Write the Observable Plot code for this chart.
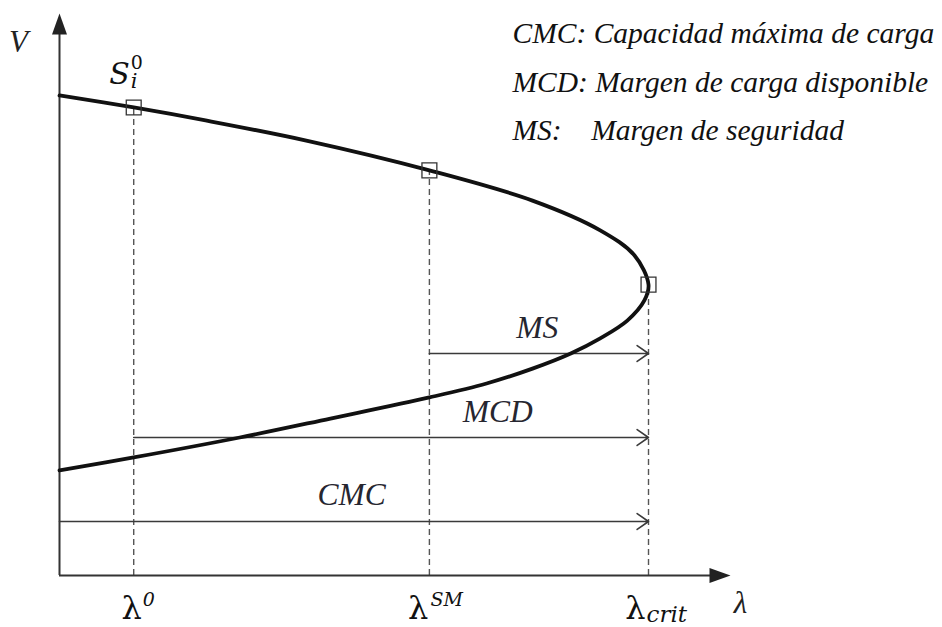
<!DOCTYPE html>
<html>
<head>
<meta charset="utf-8">
<script src="https://cdn.jsdelivr.net/npm/d3@7"></script>
<script src="https://cdn.jsdelivr.net/npm/@observablehq/plot@0.6"></script>
<style>
  html, body { margin: 0; padding: 0; background: #fff; }
  #chart svg { display: block; }
</style>
</head>
<body>
<div id="chart"></div>
<script>
// ---- Data (λ normalised so λcrit = 1, V so V(λ=0, upper) = 1)
const curveLambda = [0, 0.126, 0.248, 0.419, 0.628, 0.803, 0.918, 0.976, 1.0,
                     0.993, 0.964, 0.918, 0.868, 0.803, 0.725, 0.628, 0.460, 0.306, 0.126, 0];
const curveV      = [1.0, 0.975, 0.948, 0.906, 0.844, 0.781, 0.719, 0.667, 0.606,
                     0.573, 0.531, 0.494, 0.4625, 0.431, 0.400, 0.371, 0.327, 0.2875, 0.246, 0.219];

const keyLambda = [0.126, 0.628, 1.0];      // λ0, λSM, λcrit
const keyV      = [0.975, 0.844, 0.606];

const marginNames = ["CMC", "MCD", "MS"];
const marginStart = [0, 0.126, 0.628];
const marginEnd   = [1.0, 1.0, 1.0];
const marginLevel = [0.1125, 0.2875, 0.4625];
const marginLabelLambda = [0.496, 0.744, 0.811];
const marginLabelV      = [0.146, 0.319, 0.494];

const tickBase = ["λ", "λ", "λ"];
const tickSup  = ["0", "SM", ""];
const tickSub  = ["", "", "crit"];

const pointLabel = {base: "S", sub: "i", sup: "0"};

const legendLines = [
  "CMC: Capacidad máxima de carga",
  "MCD: Margen de carga disponible",
  "MS:\u00a0\u00a0\u00a0\u00a0Margen de seguridad"
];

const axisLabelX = "λ";
const axisLabelY = "V";

// ---- Build tables
const curve = curveLambda.map((l, i) => ({l, v: curveV[i]}));
const keys = keyLambda.map((l, i) => ({l, v: keyV[i], base: tickBase[i], sup: tickSup[i], sub: tickSub[i]}));
const margins = marginNames.map((n, i) => ({n, x1: marginStart[i], x2: marginEnd[i], v: marginLevel[i],
  lx: marginLabelLambda[i], lv: marginLabelV[i]}));
const legend = legendLines.map((t, i) => ({t, i}));

const xMax = 1.1392, yMax = 1.1708;

// filled arrowhead: tip at origin, pointing up
const arrowHead = {
  draw(ctx) {
    ctx.moveTo(0, 0);
    ctx.lineTo(7.5, 21);
    ctx.lineTo(-7.5, 21);
    ctx.closePath();
  }
};

const serifIt = "Liberation Serif";
const mathF = "DejaVu Serif";

// per-tick horizontal offsets of the λ glyph end / script start (pixels)
const baseDx = [8, -1, -3];
const scriptDx = [9, 1, -2];

const tickMarks = keys.flatMap((k, i) => [
  Plot.text([k], {x: "l", y: 0, text: "base", fontFamily: mathF, fontSize: 32, fill: "#111",
    textAnchor: "end", lineAnchor: "bottom", dx: baseDx[i], dy: 43}),
  Plot.text([k], {x: "l", y: 0, text: "sup", fontFamily: mathF, fontStyle: "italic", fontSize: 19, fill: "#111",
    textAnchor: "start", lineAnchor: "bottom", dx: scriptDx[i], dy: 30}),
  Plot.text([k], {x: "l", y: 0, text: "sub", fontFamily: mathF, fontStyle: "italic", fontSize: 23, fill: "#111",
    textAnchor: "start", lineAnchor: "bottom", dx: scriptDx[i], dy: 46})
]);

const chart = Plot.plot({
  width: 942,
  height: 627,
  margin: 0,
  x: {domain: [0, xMax], range: [59, 730], axis: null},
  y: {domain: [0, yMax], range: [575, 13], axis: null},
  marks: [
    // dashed guides
    Plot.ruleX(keys, {x: "l", y1: 0, y2: "v", stroke: "#555", strokeWidth: 1.4, strokeDasharray: "6,4"}),
    // axes
    Plot.ruleY([0], {x1: 0, x2: xMax - 0.02, stroke: "#333", strokeWidth: 2}),
    Plot.ruleX([0], {y1: 0, y2: yMax - 0.02, stroke: "#333", strokeWidth: 2}),
    Plot.dot([{x: 0, y: yMax}], {x: "x", y: "y", symbol: arrowHead, fill: "#222", stroke: null}),
    Plot.dot([{x: xMax, y: 0}], {x: "x", y: "y", symbol: arrowHead, rotate: 90, fill: "#222", stroke: null}),
    // margin arrows
    Plot.arrow(margins, {x1: "x1", x2: "x2", y1: "v", y2: "v", stroke: "#3a3a3a", strokeWidth: 1.6,
      headLength: 13, headAngle: 70, bend: 0}),
    Plot.text(margins, {x: "lx", y: "lv", text: "n", fontFamily: serifIt, fontStyle: "italic",
      fontSize: 31.5, fill: "#262630", textAnchor: "middle", lineAnchor: "bottom"}),
    // PV curve
    Plot.line(curve, {x: "l", y: "v", curve: "catmull-rom", stroke: "#111", strokeWidth: 3.8}),
    // operating points
    Plot.dot(keys, {x: "l", y: "v", symbol: "square", r: 8.4, stroke: "#333", strokeWidth: 1.3, fill: "none"}),
    // tick labels λ with scripts
    ...tickMarks,
    // S_i^0 label above first point
    Plot.text([keys[0]], {x: "l", y: "v", text: () => pointLabel.base, fontFamily: mathF, fontStyle: "italic", fontSize: 30,
      fill: "#111", textAnchor: "end", lineAnchor: "bottom", dx: -4, dy: -23}),
    Plot.text([keys[0]], {x: "l", y: "v", text: () => pointLabel.sup, fontFamily: mathF, fontSize: 19,
      fill: "#111", textAnchor: "start", lineAnchor: "bottom", dx: -3, dy: -38}),
    Plot.text([keys[0]], {x: "l", y: "v", text: () => pointLabel.sub, fontFamily: mathF, fontStyle: "italic", fontSize: 21,
      fill: "#111", textAnchor: "start", lineAnchor: "bottom", dx: -3, dy: -19}),
    // axis titles
    Plot.text([axisLabelX], {x: xMax, y: 0, text: d => d, fontFamily: serifIt, fontStyle: "italic", fontSize: 31,
      fill: "#222", textAnchor: "middle", lineAnchor: "bottom", dx: 10, dy: 37}),
    Plot.text([axisLabelY], {x: 0, y: yMax, text: d => d, fontFamily: serifIt, fontStyle: "italic", fontSize: 31,
      fill: "#222", textAnchor: "middle", lineAnchor: "bottom", dx: -41, dy: 38}),
    // legend
    Plot.text(legend, {x: 0.7691, y: d => (575 - 43 - d.i * 48.5) / 480, text: "t", fontFamily: serifIt,
      fontStyle: "italic", fontSize: 29.5, fill: "#111", textAnchor: "start", lineAnchor: "bottom"})
  ]
});
document.getElementById("chart").appendChild(chart);
</script>
</body>
</html>
